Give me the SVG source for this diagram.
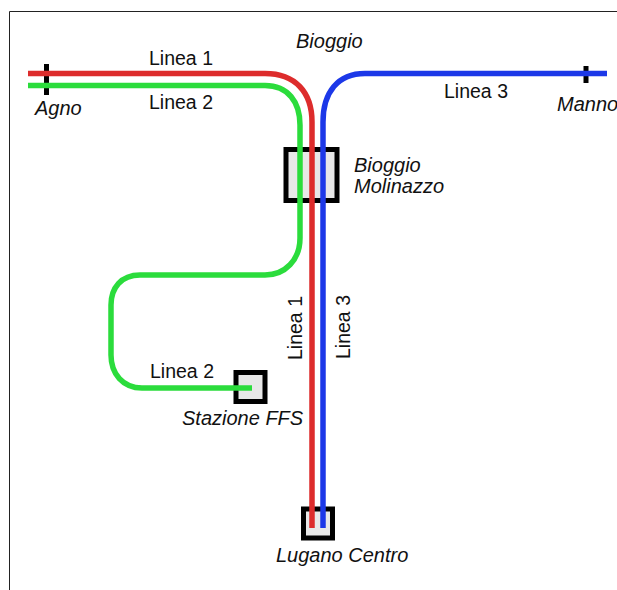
<svg xmlns="http://www.w3.org/2000/svg" width="617" height="590" viewBox="0 0 617 590">
<style>
text{font-family:"Liberation Sans",Arial,sans-serif;font-size:19.5px;fill:#111}
.i{font-style:italic;font-size:20px}
.st{fill:#e8e8e8;stroke:#000;stroke-width:5}
.l{fill:none;stroke-width:5.500}
.t{stroke:#000;stroke-width:5;fill:none}
</style>
<rect width="617" height="590" fill="#fff"/>
<path d="M9.500 590V11.500H617" fill="none" stroke="#222" stroke-width="1"/>
<g id="station-bioggio-molinazzo"><rect class="st" x="286" y="149.500" width="51" height="51"/></g>
<g id="station-ffs"><rect class="st" x="236" y="372.500" width="29" height="29"/></g>
<g id="station-lugano-centro"><rect class="st" x="303.500" y="509" width="29" height="29"/></g>
<g id="stop-agno"><path class="t" d="M46.500 64V95"/></g>
<g id="stop-manno"><path class="t" d="M586 66V83"/></g>
<g id="connectors">
<path class="l" stroke="#dd2c2c" d="M28 73.500H265C295 73.500 312 92 312 122V528"/>
<path class="l" stroke="#2bdc3c" d="M28 85.500H265C288 85.500 300 102 300 125V238C300 260 285 275 265 275H140C121 275 111 288 111 305V355C111 374 123 388 142 388H252"/>
<path class="l" stroke="#1c38e8" d="M607 73.500H365C338 73.500 323 92 323 122V528"/>
</g>
<g id="labels">
<text x="149" y="64.500">Linea 1</text>
<text x="149" y="108.500">Linea 2</text>
<text x="444" y="97.500">Linea 3</text>
<text x="150" y="377.500">Linea 2</text>
<text transform="translate(301.500 360) rotate(-90)">Linea 1</text>
<text transform="translate(349.500 359) rotate(-90)">Linea 3</text>
<text class="i" x="35" y="114.500">Agno</text>
<text class="i" x="296" y="47.500">Bioggio</text>
<text class="i" x="557" y="110.500">Manno</text>
<text class="i" x="354" y="171.500">Bioggio</text>
<text class="i" x="354" y="192.500">Molinazzo</text>
<text class="i" x="182" y="424.500">Stazione FFS</text>
<text class="i" x="276" y="561.500">Lugano Centro</text>
</g>
</svg>
